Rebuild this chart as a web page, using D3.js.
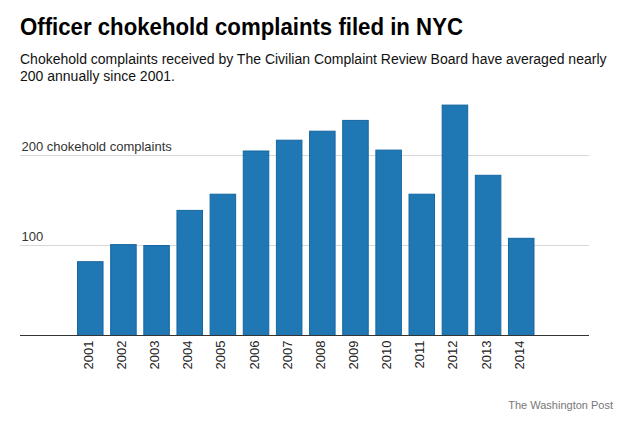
<!DOCTYPE html>
<html><head><meta charset="utf-8">
<script src="https://cdn.jsdelivr.net/npm/d3@7"></script>
<style>
body{margin:0;background:#fff;}
svg{display:block;}
</style></head>
<body>
<svg id="chart" width="627" height="422"></svg>
<script>
const years = ["2001","2002","2003","2004","2005","2006","2007","2008","2009","2010","2011","2012","2013","2014"];
const complaints = [82,101,100,139,157,205,217,227,239,206,157,256,178,108];
const yTicks = [100,200];
const yTickLabels = ["100","200 chokehold complaints"];
const title = "Officer chokehold complaints filed in NYC";
const subtitleLines = ["Chokehold complaints received by The Civilian Complaint Review Board have averaged nearly","200 annually since 2001."];
const source = "The Washington Post";

const svg = d3.select("#chart");
const sans = "Helvetica, 'Liberation Sans', Arial, sans-serif";

const x = d3.scaleBand().domain(years).range([73.7, 537.8]).paddingInner(0.2).paddingOuter(0.1);
const y = d3.scaleLinear().domain([0, 100]).range([335.5, 245.5]);

// title
const t = svg.append("text").attr("x",20).attr("y",34.5)
  .attr("font-family","'Liberation Sans', Arial, sans-serif")
  .attr("font-weight","bold").attr("font-size",24).attr("fill","#000").text(title);
const tw = t.node().getComputedTextLength();
if (tw > 443) t.attr("textLength",443).attr("lengthAdjust","spacingAndGlyphs");
// subtitle
svg.append("g").selectAll("text").data(subtitleLines).join("text")
  .attr("x",20).attr("y",(d,i)=>64+i*17)
  .attr("font-family",sans).attr("font-size",14).attr("fill","#111").text(d=>d);

// gridlines
svg.append("g").selectAll("line").data(yTicks).join("line")
  .attr("x1",20).attr("x2",589).attr("y1",d=>y(d)).attr("y2",d=>y(d))
  .attr("stroke","#d8d8d8").attr("stroke-width",1);
svg.append("g").selectAll("text").data(yTicks).join("text")
  .attr("x",21.5).attr("y",d=>y(d)-5).attr("font-family",sans).attr("font-size",13)
  .attr("fill","#333").text((d,i)=>yTickLabels[i]);

// bars
svg.append("g").selectAll("rect").data(years).join("rect")
  .attr("x",d=>x(d)+0.5).attr("width",x.bandwidth()-1)
  .attr("y",(d,i)=>y(complaints[i])).attr("height",(d,i)=>y(0)-y(complaints[i]))
  .attr("fill","#1f78b4").attr("stroke","#1566a0").attr("stroke-width",1);

// baseline
svg.append("line").attr("x1",20).attr("x2",589).attr("y1",y(0)).attr("y2",y(0))
  .attr("stroke","#333").attr("stroke-width",1.2);

// x labels
svg.append("g").selectAll("text").data(years).join("text")
  .attr("transform",d=>`translate(${x(d)+x.bandwidth()/2-2},${y(0)+5}) rotate(-90)`)
  .attr("text-anchor","end").attr("dy","0.35em")
  .attr("font-family",sans).attr("font-size",13).attr("fill","#222").text(d=>d);

// source
svg.append("text").attr("x",613).attr("y",408.5).attr("text-anchor","end")
  .attr("font-family",sans).attr("font-size",11).attr("fill","#777").text(source);
</script>
</body></html>
